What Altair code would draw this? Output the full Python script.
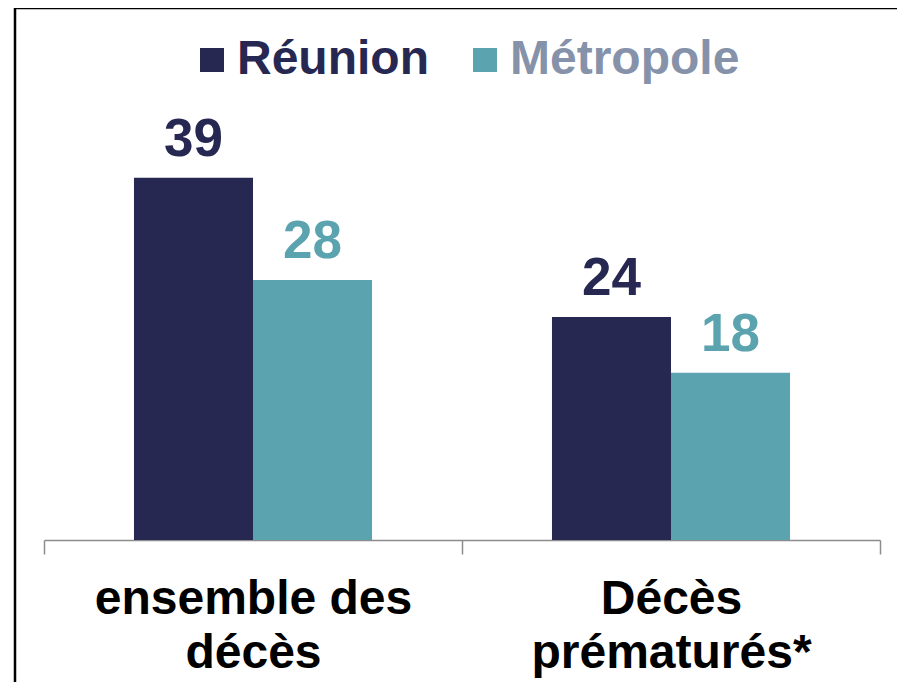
import altair as alt
import pandas as pd

categories = ["ensemble des\ndécès", "Décès\nprématurés*"]
series = ["Réunion", "Métropole"]
reunion = [39, 24]
metropole = [28, 18]
colors = ["#262852", "#5BA3AE"]

rows = []
for i, c in enumerate(categories):
    rows.append({"cat": c, "serie": series[0], "val": reunion[i]})
    rows.append({"cat": c, "serie": series[1], "val": metropole[i]})
df = pd.DataFrame(rows)

FONT = "Liberation Sans"

x = alt.X("cat:N", sort=categories, title=None,
          scale=alt.Scale(paddingInner=0, paddingOuter=0),
          axis=alt.Axis(labelAngle=0, tickBand="extent", domainColor="#8c8c8c",
                        tickColor="#8c8c8c", tickSize=14, tickWidth=1.5, domainWidth=1.5,
                        labelFont=FONT, labelFontSize=48, labelFontWeight="bold",
                        labelColor="black", labelLineHeight=54, labelPadding=21,
                        labelLimit=0,
                        labelExpr="split(datum.label, '\\n')", grid=False))
xo = alt.XOffset("serie:N", sort=series, scale=alt.Scale(paddingInner=0, paddingOuter=0.756))
y = alt.Y("val:Q", scale=alt.Scale(domain=[0, 45]), axis=None)
color = alt.Color("serie:N", sort=series,
                  scale=alt.Scale(domain=series, range=colors),
                  legend=alt.Legend(title=None, orient="none", direction="horizontal",
                                    legendX=144, legendY=-86,
                                    symbolType="square", symbolSize=576, symbolStrokeWidth=0,
                                    labelFont=FONT, labelFontSize=48, labelFontWeight="bold",
                                    labelColor={"expr": "datum.label == 'Réunion' ? '#262852' : '#8592AA'"},
                                    labelOffset=1, columnPadding=32, labelLimit=400))

base = alt.Chart(df)
bars = base.mark_bar(stroke=None).encode(x=x, xOffset=xo, y=y, color=color)
labels = base.mark_text(font=FONT, fontSize=53, fontWeight="bold", baseline="alphabetic",
                        align="center", dy=-22).encode(
    x=alt.X("cat:N", sort=categories), xOffset=alt.XOffset("serie:N", sort=series),
    y="val:Q", text="val:Q", color=alt.Color("serie:N", sort=series, legend=None))

one = alt.Chart(pd.DataFrame({"k": [0]}))
frame_top = one.mark_rule(color="black", strokeWidth=2.5).encode(
    x=alt.value(-29), x2=alt.value(1000), y=alt.value(-114))
frame_left = one.mark_rule(color="black", strokeWidth=2.5).encode(
    x=alt.value(-29), y=alt.value(-115), y2=alt.value(900))

chart = alt.layer(bars, labels, frame_top, frame_left).properties(
    width=836, height=418,
    autosize=alt.AutoSizeParams(type="none"),
    padding={"left": 36, "top": 114, "right": 17, "bottom": 142},
).configure_view(stroke=None)

chart.save("out.html", embed_options={"renderer": "svg", "actions": False})
